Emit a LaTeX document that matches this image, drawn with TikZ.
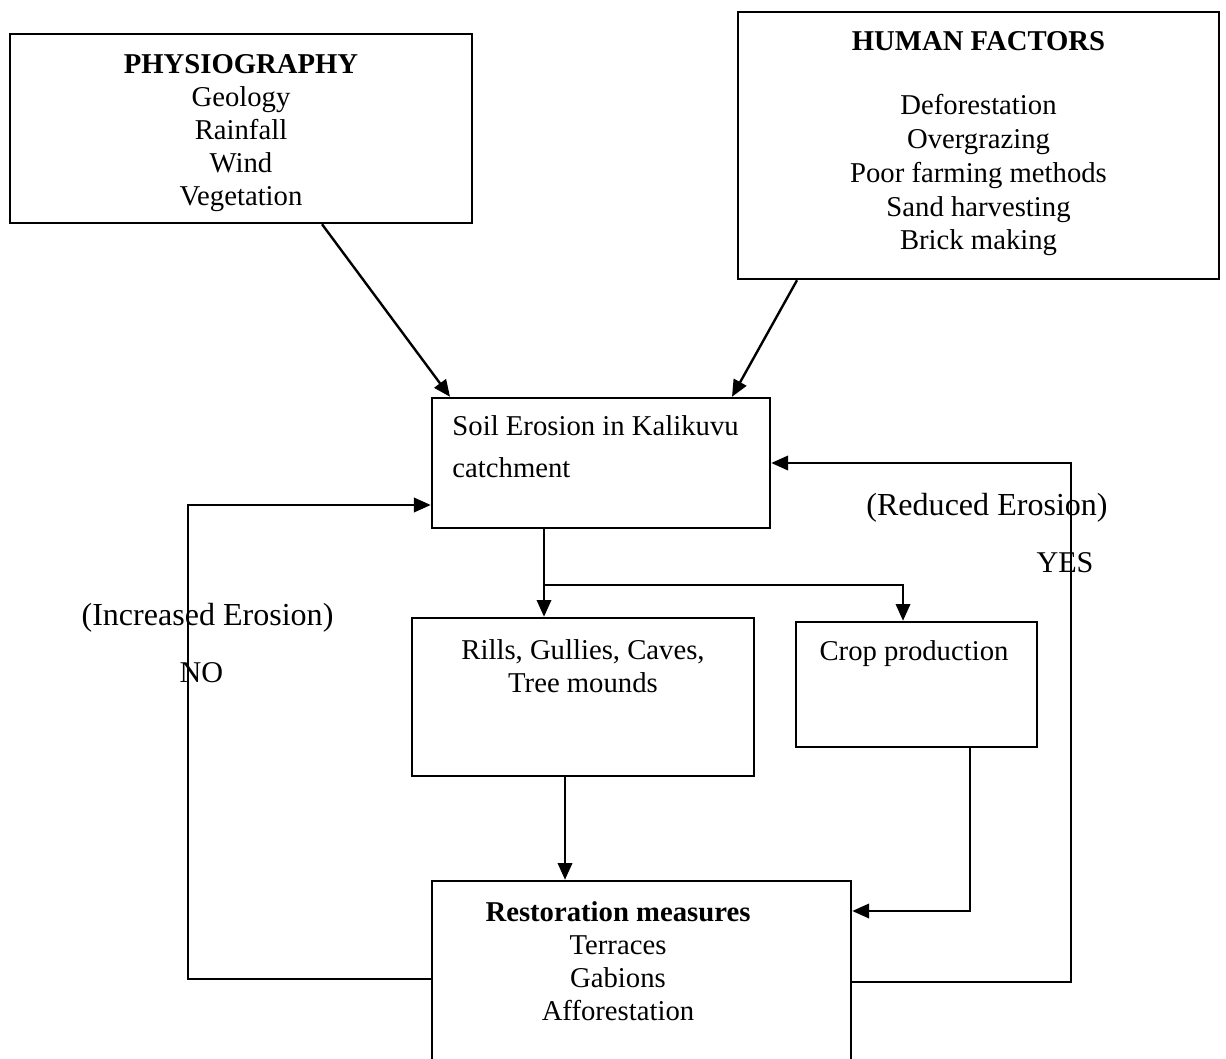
\documentclass[tikz,border=0pt]{standalone}
\usepackage{fontspec}
\setmainfont{Liberation Serif}
\usetikzlibrary{arrows.meta,positioning,calc}

\begin{document}
\begin{tikzpicture}[
    x=0.0147cm, y=-0.0147cm,
    box/.style={draw, line width=1pt, inner sep=0pt, align=center, font=\fontsize{12}{13.8}\selectfont},
    frame/.style={draw, line width=1pt, inner sep=0pt},
    txt/.style={inner sep=0pt, align=center, font=\fontsize{12}{13.8}\selectfont},
    lbl/.style={inner sep=0pt, font=\fontsize{13.4}{15}\selectfont},
    flow/.style={->, line width=1pt},
    >={Triangle[length=7pt, width=6pt]}
]
\clip (0,0) rectangle (1226,1059);

% causes
\node[box, minimum width=6.791cm, minimum height=2.778cm] (phys) at (241, 128.5) {};
\node[txt] (phystxt) at (241, 133)
    {\textbf{PHYSIOGRAPHY}\\ Geology\\ Rainfall\\ Wind\\ Vegetation};
\node[box, minimum width=7.071cm, minimum height=3.925cm] (human) at (978.5, 145.5) {};
\node[txt, font=\fontsize{12}{14.1}\selectfont] (humantxt) at (978.5, 143.5)
    {\textbf{HUMAN FACTORS}\\[13pt] Deforestation\\ Overgrazing\\ Poor farming methods\\ Sand harvesting\\ Brick making};

% erosion and its effects
\node[frame, minimum width=4.969cm, minimum height=1.911cm] (soil) at (601, 463) {};
\node[txt, align=left, anchor=north west, font=\fontsize{12}{17.6}\selectfont] (soiltxt) at (452, 415)
    {Soil Erosion in Kalikuvu\\ catchment};
\node[frame, minimum width=5.027cm, minimum height=2.323cm] (rills) at (583, 697) {};
\node[txt, anchor=north] (rillstxt) at (583, 639) {Rills, Gullies, Caves,\\ Tree mounds};
\node[frame, minimum width=3.543cm, minimum height=1.838cm] (crop) at (916.5, 684.5) {};
\node[txt, anchor=north] (croptxt) at (914, 640) {Crop production};

% restoration
\node[frame, minimum width=6.159cm, minimum height=3.513cm] (rest) at (641.5, 1000.5) {};
\node[txt, anchor=north] (resttxt) at (618, 901)
    {\textbf{Restoration measures}\\ Terraces\\ Gabions\\ Afforestation};

\draw[flow] ($(phys.south)+(81,0)$) -- ($(soil.north)+(-151,0)$);
\draw[flow] ($(human.south)+(-181.5,0)$) -- ($(soil.north)+(131,0)$);

\coordinate (down) at ($(soil.south)+(-57,0)$);
\coordinate (split) at (down |- 0,585);
\draw[flow] (down) -- (down |- rills.north);
\draw[flow] (split) -| ($(crop.north)+(-13.5,0)$);

\coordinate (rdown) at ($(rills.south)+(-18,0)$);
\draw[flow] (rdown) -- (rdown |- rest.north);
\draw[flow] ($(crop.south)+(53.5,0)$) |- ($(rest.east)+(0,-89.5)$);

% feedback loops
\draw[flow] ($(rest.east)+(0,-18.5)$) -- (1071, 982) |- (soil.east);
\draw[flow] ($(rest.west)+(0,-21.5)$) -- (188, 979) |- ($(soil.west)+(0,42)$);

\node[lbl] (lblred) at (987, 508) {(Reduced Erosion)};
\node[lbl, font=\fontsize{12.6}{15}\selectfont] (lblyes) at (1065, 563) {YES};
\node[lbl] (lblinc) at (207.5, 618) {(Increased Erosion)};
\node[lbl, font=\fontsize{12.6}{15}\selectfont] (lblno) at (201.5, 673) {NO};

\end{tikzpicture}
\end{document}
